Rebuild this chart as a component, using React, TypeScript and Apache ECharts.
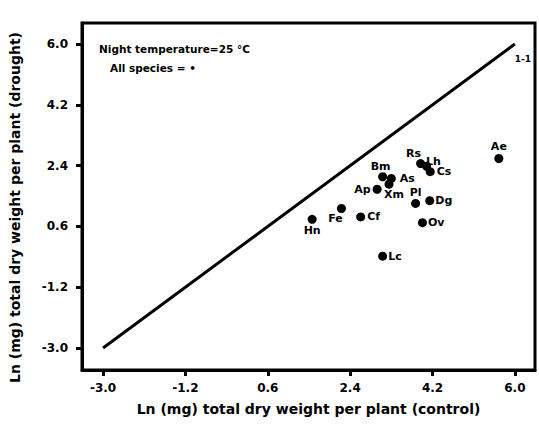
import React, { useEffect, useRef } from "react";
import * as echarts from "echarts";

const species = ["Hn", "Fe", "Cf", "Ap", "Bm", "As", "Xm", "Rs", "Lh", "Cs", "Pl", "Dg", "Ov", "Lc", "Ae"];
const controlLn = [1.57, 2.21, 2.63, 2.99, 3.11, 3.3, 3.25, 3.94, 4.07, 4.15, 3.83, 4.14, 3.98, 3.11, 5.65];
const droughtLn = [0.81, 1.13, 0.88, 1.7, 2.07, 2.02, 1.85, 2.46, 2.38, 2.22, 1.28, 1.36, 0.71, -0.28, 2.61];
const tickValues = [-3.0, -1.2, 0.6, 2.4, 4.2, 6.0];
const oneToOne = [
  [-3, -3],
  [6, 6],
];

const labelPlacement: Record<string, { position: string; offset: number[] }> = {
  Hn: { position: "bottom", offset: [0, -3] },
  Fe: { position: "bottom", offset: [-6, -4] },
  Cf: { position: "right", offset: [-2, 0] },
  Ap: { position: "left", offset: [2, 0] },
  Bm: { position: "top", offset: [-2, 4] },
  As: { position: "right", offset: [0, 0] },
  Xm: { position: "bottom", offset: [5, -4] },
  Rs: { position: "top", offset: [-7, 4] },
  Lh: { position: "right", offset: [-9, -5] },
  Cs: { position: "right", offset: [-2, 0] },
  Pl: { position: "top", offset: [0, 3] },
  Dg: { position: "right", offset: [-3, 0] },
  Ov: { position: "right", offset: [-3, 0] },
  Lc: { position: "right", offset: [-3, 0] },
  Ae: { position: "top", offset: [0, 2] },
};

const FONT = "DejaVu Sans";

export default function App() {
  const ref = useRef<HTMLDivElement>(null);
  useEffect(() => {
    if (!ref.current) return;
    const chart = echarts.init(ref.current, null, { renderer: "svg" });
    const pts = species.map((s, i) => ({
      name: s,
      value: [controlLn[i], droughtLn[i]],
      label: {
        show: true,
        formatter: s,
        position: labelPlacement[s].position,
        offset: labelPlacement[s].offset,
        distance: 4,
      },
    }));
    const axisCommon = {
      type: "value",
      splitLine: { show: false },
      axisLine: { show: true, onZero: false, lineStyle: { color: "#000", width: 3 } },
      axisTick: {
        show: true,
        inside: false,
        length: 6,
        customValues: tickValues,
        lineStyle: { color: "#000", width: 3 },
      },
      nameLocation: "middle",
      nameTextStyle: { fontFamily: FONT, fontWeight: "bold", fontSize: 14, color: "#000" },
    };
    const tickLabel = {
      customValues: tickValues,
      formatter: (v: number) => v.toFixed(1),
      fontFamily: FONT,
      fontWeight: "bold",
      fontSize: 12,
      color: "#000",
    };
    chart.setOption({
      animation: false,
      backgroundColor: "#fff",
      grid: {
        left: 82,
        top: 23,
        right: 4,
        bottom: 60,
        show: true,
        borderColor: "#000",
        borderWidth: 3,
      },
      xAxis: {
        ...axisCommon,
        min: -3.46,
        max: 6.44,
        name: "Ln (mg) total dry weight per plant (control)",
        nameGap: 32,
        axisLabel: { ...tickLabel, margin: 12 },
      },
      yAxis: {
        ...axisCommon,
        min: -3.65,
        max: 6.62,
        name: "Ln (mg) total dry weight per plant (drought)",
        nameGap: 60,
        nameTextStyle: { ...axisCommon.nameTextStyle, padding: [0, 22, 0, 0] },
        axisLabel: { ...tickLabel, margin: 14 },
      },
      series: [
        {
          type: "line",
          data: oneToOne,
          symbol: "none",
          lineStyle: { color: "#000", width: 3 },
          silent: true,
          z: 1,
        },
        {
          type: "scatter",
          data: [
            {
              value: oneToOne[1],
              label: {
                show: true,
                formatter: "1-1",
                position: "bottom",
                distance: 5,
                offset: [8, 6],
                fontFamily: FONT,
                fontWeight: "bold",
                fontSize: 9,
                color: "#000",
              },
            },
          ],
          symbolSize: 0,
          itemStyle: { color: "#000", opacity: 1 },
          silent: true,
          z: 2,
        },
        {
          type: "scatter",
          data: pts,
          symbol: "circle",
          symbolSize: 9,
          itemStyle: { color: "#000", opacity: 1 },
          label: { fontFamily: FONT, fontWeight: "bold", fontSize: 11, color: "#000" },
          z: 3,
        },
      ],
      graphic: [
        {
          type: "text",
          left: 99,
          top: 43,
          style: {
            text: "Night temperature=25 °C",
            font: `bold 10.5px '${FONT}'`,
            fill: "#000",
          },
        },
        {
          type: "text",
          left: 110,
          top: 62,
          style: {
            text: "All species = •",
            font: `bold 10.5px '${FONT}'`,
            fill: "#000",
          },
        },
      ],
    });
    return () => chart.dispose();
  }, []);
  return (
    <div
      ref={ref}
      style={{ position: "fixed", left: 0, top: 0, width: 539, height: 430, background: "#fff" }}
    />
  );
}
